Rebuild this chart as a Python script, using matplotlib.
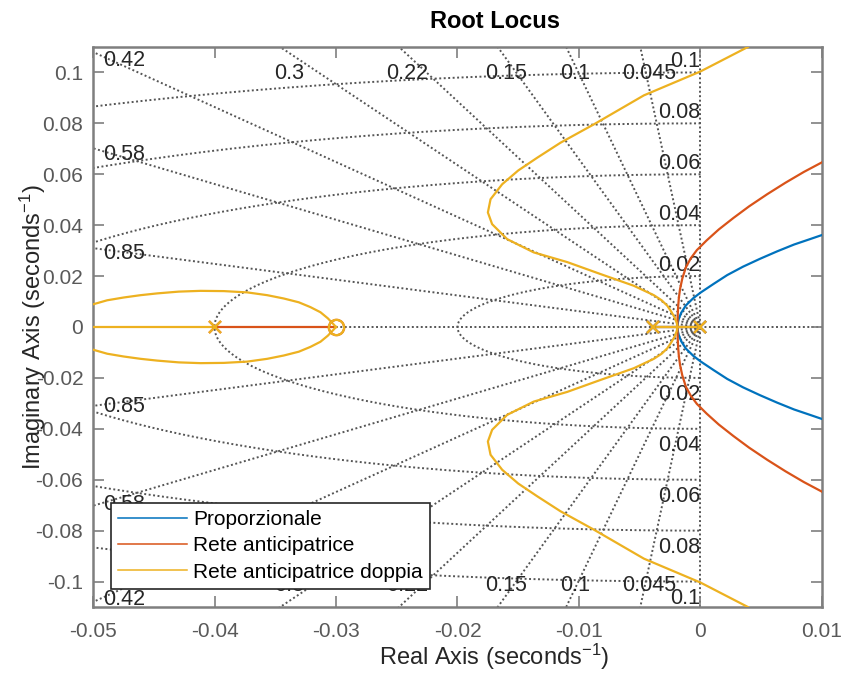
import numpy as np
import matplotlib
matplotlib.use('Agg')
import matplotlib.pyplot as plt
from matplotlib.lines import Line2D
from matplotlib.ticker import FuncFormatter

plt.rcParams['font.family'] = ['Liberation Sans', 'DejaVu Sans']
plt.rcParams['axes.unicode_minus'] = False
plt.rcParams['mathtext.fontset'] = 'custom'
plt.rcParams['mathtext.rm'] = 'Liberation Sans'
plt.rcParams['mathtext.it'] = 'Liberation Sans:italic'
plt.rcParams['mathtext.bf'] = 'Liberation Sans:bold'

BLUE = '#0072BD'
RED = '#D95319'
YELLOW = '#EDB120'
GRID = '#555555'
DOTS = (0, (1, 1.3))

# ---- grid values (sgrid) ----
zeta_vals = [0.045, 0.1, 0.15, 0.22, 0.3, 0.42, 0.58, 0.85]
wn_vals = [0.02, 0.04, 0.06, 0.08, 0.1]

# ---- poles / zeros ----
plant_poles = [-0.0039, 0.0]
lead_pole = -0.04
lead_zero = -0.03

# ---- locus branches (upper half, mirrored below) ----
blue_x = [-0.0019, -0.00187, -0.0018, -0.0016, -0.0012, -0.0006, 0.0, 0.0011,
          0.0022, 0.0035, 0.0049, 0.0063, 0.0077, 0.0090, 0.0101]
blue_y = [0.0, 0.0015, 0.003, 0.0055, 0.0085, 0.0113, 0.0135, 0.0170,
          0.0204, 0.0237, 0.0268, 0.0297, 0.0324, 0.0345, 0.0363]

red_x = [-0.0019, -0.00188, -0.00184, -0.00178, -0.00168, -0.0015, -0.0012, -0.0008,
         -0.0003, 0.0005, 0.0015, 0.0027, 0.0040, 0.0055, 0.0070, 0.0085, 0.0100]
red_y = [0.0, 0.004, 0.008, 0.0115, 0.015, 0.019, 0.0235, 0.027,
         0.0302, 0.034, 0.0383, 0.0428, 0.0474, 0.0522, 0.0567, 0.0609, 0.0647]

yel_x = [-0.0019, -0.00195, -0.0021, -0.0024, -0.00274, -0.0032, -0.00384, -0.00549,
         -0.00823, -0.01097, -0.01372, -0.01591, -0.01715, -0.0175, -0.01728, -0.01632,
         -0.0150, -0.01344, -0.01152, -0.00878, -0.00466, 0.0, 0.0039]
yel_y = [0.0, 0.0015, 0.0035, 0.0060, 0.0084, 0.0105, 0.0125, 0.0162,
         0.0208, 0.0255, 0.0293, 0.0345, 0.0404, 0.045, 0.0502, 0.0561,
         0.0615, 0.0665, 0.0724, 0.0796, 0.0910, 0.1004, 0.110]

loop_x = [-0.04993, -0.04883, -0.04746, -0.04609, -0.04472, -0.04294, -0.04115, -0.03923,
          -0.03731, -0.03566, -0.0343, -0.03306, -0.0321, -0.03128, -0.03067, -0.03023, -0.0300]
loop_y = [0.0090, 0.0105, 0.0116, 0.0125, 0.0132, 0.0139, 0.0142, 0.0141,
          0.0136, 0.0125, 0.0112, 0.0097, 0.0078, 0.0058, 0.0034, 0.0012, 0.0]

x_ticks = [-0.05, -0.04, -0.03, -0.02, -0.01, 0, 0.01]
y_ticks = [-0.1, -0.08, -0.06, -0.04, -0.02, 0, 0.02, 0.04, 0.06, 0.08, 0.1]
x_lim = (-0.05, 0.01)
y_lim = (-0.11, 0.11)

labels = ['Proporzionale', 'Rete anticipatrice', 'Rete anticipatrice doppia']

fig = plt.figure(figsize=(8.45, 6.77), dpi=100)
ax = fig.add_axes([93 / 845, 70 / 677, 729 / 845, 560 / 677])

# damping rays
for z in zeta_vals:
    wd = np.sqrt(1 - z ** 2)
    for s in (1, -1):
        ax.plot([0, -z], [0, s * wd], ls=DOTS, color=GRID, lw=1.4, zorder=1)
# natural frequency half circles
t = np.linspace(np.pi / 2, 3 * np.pi / 2, 300)
for wn in wn_vals:
    ax.plot(wn * np.cos(t), wn * np.sin(t), ls=DOTS, color=GRID, lw=1.4, zorder=1)
ax.plot([0, 0], [y_lim[0], y_lim[1]], ls=DOTS, color=GRID, lw=1.4, zorder=1)
ax.plot([0, 0.01], [0, 0], ls=DOTS, color=GRID, lw=1.4, zorder=1)
ax.plot([0, -0.05], [0, 0], ls=DOTS, color=GRID, lw=1.4, zorder=1)

# grid labels
lab_kw = dict(fontsize=15.5, color='#262626', zorder=2)
for z in zeta_vals:
    k = np.sqrt(1 - z ** 2) / z
    xt = -y_lim[1] / k
    if xt >= x_lim[0]:
        ax.text(xt + 0.0007, y_lim[1] - 0.0104, f'{z:g}', ha='center', va='center', **lab_kw)
        ax.text(xt + 0.0007, y_lim[0] + 0.0083, f'{z:g}', ha='center', va='center', **lab_kw)
    else:
        x0 = x_lim[0] + 0.0008
        yr = -k * x0
        ax.text(x0, yr - 0.0015, f'{z:g}', ha='left', va='center', **lab_kw)
        ax.text(x0, -yr - 0.0008, f'{z:g}', ha='left', va='center', **lab_kw)
for wn in wn_vals:
    ax.text(0, wn, f'{wn:g}', ha='right', va='bottom', **lab_kw)
    ax.text(0, -wn - 0.0025, f'{wn:g}', ha='right', va='top', **lab_kw)

# loci
lw = 1.6
for xs, ys, c in [(blue_x, blue_y, BLUE), (red_x, red_y, RED), (yel_x, yel_y, YELLOW)]:
    ax.plot(xs, ys, color=c, lw=lw, zorder=3)
    ax.plot(xs, [-v for v in ys], color=c, lw=lw, zorder=3)
    ax.plot(plant_poles, [0, 0], color=c, lw=lw, zorder=3)
ax.plot([lead_pole, lead_zero], [0, 0], color=RED, lw=lw, zorder=3)
ax.plot([x_lim[0], lead_pole], [0, 0], color=YELLOW, lw=lw, zorder=3)
ax.plot(loop_x, loop_y, color=YELLOW, lw=lw, zorder=3)
ax.plot(loop_x, [-v for v in loop_y], color=YELLOW, lw=lw, zorder=3)

# markers
for c in (BLUE, RED, YELLOW):
    ax.plot(plant_poles, [0, 0], 'x', color=c, ms=9, mew=1.6, zorder=4)
for c in (RED, YELLOW):
    ax.plot([lead_pole], [0], 'x', color=c, ms=9, mew=1.6, zorder=4)
    ax.plot([lead_zero], [0], 'o', color=c, mfc='none', ms=11, mew=1.6, zorder=4)

ax.set_xlim(*x_lim)
ax.set_ylim(*y_lim)
ax.set_xticks(x_ticks)
ax.set_yticks(y_ticks)
fmt = FuncFormatter(lambda v, p: f'{v:g}')
ax.xaxis.set_major_formatter(fmt)
ax.yaxis.set_major_formatter(fmt)
ax.tick_params(direction='in', length=8, width=1.2, color='#7f7f7f', top=True, right=True,
               labelsize=15, labelcolor='#595959')
ax.tick_params(axis='x', pad=11)
ax.tick_params(axis='y', pad=7)
for sp in ax.spines.values():
    sp.set_color('#7f7f7f')
    sp.set_linewidth(1.8)

ax.set_xlabel('Real Axis (seconds$^{-1}$)', fontsize=17, color='#262626')
ax.set_ylabel('Imaginary Axis (seconds$^{-1}$)', fontsize=17, color='#262626')
ax.xaxis.set_label_coords(0.55, -0.063)
ax.yaxis.set_label_coords(-0.062, 0.5)
fig.text(495 / 845, 1 - 21 / 677, 'Root Locus', ha='center', va='center',
         fontsize=17, fontweight='bold')

handles = [Line2D([], [], color=c, lw=1.1) for c in (BLUE, RED, YELLOW)]
leg = ax.legend(handles, labels, loc='lower left', bbox_to_anchor=(0.0247, 0.032),
                borderaxespad=0, fontsize=15, handlelength=3.3, handletextpad=0.3,
                labelspacing=0.35, borderpad=0.35, fancybox=False, framealpha=1)
leg.get_frame().set_edgecolor('#262626')
leg.get_frame().set_linewidth(1.2)
leg.set_zorder(5)

fig.savefig('out.png', dpi=100)
